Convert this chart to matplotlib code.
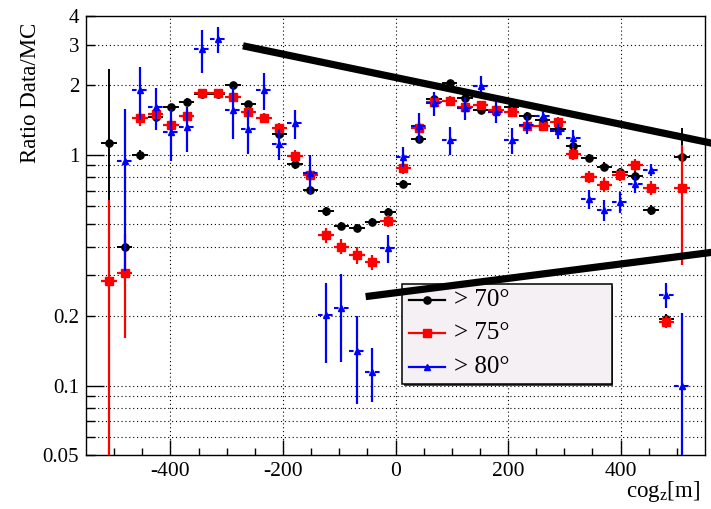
import numpy as np
import matplotlib
matplotlib.use("Agg")
import matplotlib.pyplot as plt
from matplotlib.ticker import FixedLocator, FuncFormatter
from matplotlib.lines import Line2D
from matplotlib.patches import Rectangle

nan = np.nan

# Histogram binning along cog_z [m]
z_low, z_high, n_bins = -550.0, 550.0, 40

# Data/MC ratio per bin for three zenith-angle cuts
ratio_70 = [nan, 1.13, 0.398, 1.00, 1.46, 1.61, 1.70, 1.84, 1.84, 2.01,
            1.66, 1.44, 1.23, 0.91, 0.705, 0.571, 0.492, 0.481, 0.514, 0.566,
            0.746, 1.17, 1.75, 2.05, 1.76, 1.56, 1.57, 1.62, 1.48, 1.41,
            1.30, 1.09, 0.967, 0.89, 0.841, 0.811, 0.577, 0.194, 0.983, nan]
err_70 = [nan, 1.22, 0.02, 0.05, 0.06, 0.06, 0.06, 0.07, 0.07, 0.07,
          0.06, 0.05, 0.05, 0.04, 0.03, 0.025, 0.02, 0.02, 0.02, 0.02,
          0.03, 0.04, 0.06, 0.07, 0.06, 0.05, 0.05, 0.05, 0.05, 0.05,
          0.05, 0.04, 0.04, 0.04, 0.04, 0.04, 0.03, 0.01, 0.33, nan]

ratio_75 = [nan, 0.285, 0.307, 1.44, 1.51, 1.35, 1.47, 1.85, 1.85, 1.79,
            1.54, 1.45, 1.31, 0.993, 0.819, 0.449, 0.40, 0.368, 0.342, 0.517,
            0.876, 1.31, 1.69, 1.715, 1.62, 1.64, 1.57, 1.54, 1.34, 1.34,
            1.39, 1.01, 0.805, 0.741, 0.819, 0.905, 0.721, 0.189, 0.717, nan]
err_75 = [nan, 0.353, 0.147, 0.10, 0.09, 0.09, 0.09, 0.08, 0.08, 0.09,
          0.08, 0.07, 0.07, 0.06, 0.05, 0.035, 0.03, 0.03, 0.025, 0.03,
          0.05, 0.08, 0.09, 0.09, 0.08, 0.08, 0.07, 0.07, 0.07, 0.07,
          0.07, 0.06, 0.05, 0.05, 0.05, 0.05, 0.05, 0.012, 0.384, nan]

ratio_80 = [nan, nan, 0.945, 1.915, 1.61, 1.26, 1.32, 2.875, 3.18, 1.567,
            1.29, 1.915, 1.12, 1.37, 0.838, 0.202, 0.216, 0.1416, 0.115, 0.394,
            0.983, 1.33, 1.675, 1.16, 1.594, 1.99, 1.54, 1.16, 1.35, 1.48,
            1.27, 1.18, 0.642, 0.577, 0.627, 0.746, 0.861, 0.247, 0.10, nan]
err_80 = [nan, nan, 0.63, 0.50, 0.33, 0.32, 0.29, 0.60, 0.42, 0.40,
          0.28, 0.35, 0.17, 0.20, 0.16, 0.077, 0.09, 0.058, 0.03, 0.055,
          0.10, 0.19, 0.20, 0.16, 0.18, 0.20, 0.16, 0.15, 0.12, 0.10,
          0.10, 0.10, 0.06, 0.06, 0.065, 0.065, 0.05, 0.03, 0.107, nan]

series_labels = ["> 70°", "> 75°", "> 80°"]
series_colors = ["black", "#ff0000", "#0000ff"]
series_markers = ["o", "s", "^"]

# Axis ticks and labels
x_major = [-400, -200, 0, 200, 400]
x_labels = ["-400", "-200", "0", "200", "400"]
y_decades = [0.1, 1.0]
y_minor = [0.05, 0.06, 0.07, 0.08, 0.09, 0.2, 0.3, 0.4, 0.5, 0.6,
           0.7, 0.8, 0.9, 2.0, 3.0, 4.0]
y_label_values = [0.05, 0.1, 0.2, 1.0, 2.0, 3.0, 4.0]
y_label_texts = ["0.05", "0.1", "0.2", "1", "2", "3", "4"]

# Two hand-drawn guide lines (data coordinates)
guide_upper_x = [-271.0, 562.0]
guide_upper_y = [2.97, 1.124]
guide_lower_x = [-53.0, 562.0]
guide_lower_y = [0.243, 0.378]

plt.rcParams["font.family"] = ["Liberation Serif", "DejaVu Serif"]
plt.rcParams["mathtext.fontset"] = "custom"
plt.rcParams["mathtext.rm"] = "Liberation Serif"
plt.rcParams["mathtext.it"] = "Liberation Serif:italic"
plt.rcParams["axes.unicode_minus"] = False

fig = plt.figure(figsize=(7.11, 5.09), dpi=100)
fig.patch.set_facecolor("white")
ax = fig.add_axes([86 / 711, 54 / 509, 619 / 711, 439 / 509])

edges = np.linspace(z_low, z_high, n_bins + 1)
centers = 0.5 * (edges[:-1] + edges[1:])
half_width = 0.5 * (edges[1] - edges[0])
y_bottom = 0.05


def lower_err(vals, errs):
    vals = np.asarray(vals, float)
    errs = np.asarray(errs, float)
    low = np.where(vals - errs <= 0, vals - 1e-4, errs)
    return np.vstack([low, errs])


# > 70 deg : full circles
ax.errorbar(centers, ratio_70, yerr=lower_err(ratio_70, err_70), xerr=half_width,
            fmt=series_markers[0], color=series_colors[0], ms=5.2, elinewidth=1.4,
            capsize=0, zorder=3)
# > 75 deg : full squares
ax.errorbar(centers, ratio_75, yerr=lower_err(ratio_75, err_75), xerr=half_width,
            fmt=series_markers[1], color=series_colors[1], ms=6.3, elinewidth=1.6,
            capsize=0, zorder=4)
# > 80 deg : full triangles, horizontal bars drawn with a gap at the marker
ax.errorbar(centers, ratio_80, yerr=lower_err(ratio_80, err_80),
            fmt=series_markers[2], color=series_colors[2], ms=4.8, elinewidth=1.6,
            capsize=0, zorder=5)
r80 = np.asarray(ratio_80, float)
gap = 4.0
ax.hlines(r80, centers - half_width, centers - gap, color=series_colors[2],
          lw=1.5, linestyles=(0, (2.2, 1.6)), zorder=5)
ax.hlines(r80, centers + gap, centers + half_width, color=series_colors[2],
          lw=1.5, linestyles=(0, (2.2, 1.6)), zorder=5)

ax.set_xlim(z_low, z_high)
ax.set_yscale("log")
ax.set_ylim(y_bottom, 4.0)

# Ticks
ax.xaxis.set_major_locator(FixedLocator(x_major))
ax.set_xticklabels(x_labels)
ax.xaxis.set_minor_locator(FixedLocator(np.arange(-500, 501, 50)))
ax.yaxis.set_major_locator(FixedLocator(y_decades))
ax.yaxis.set_minor_locator(FixedLocator(y_minor))
label_map = dict(zip(y_label_values, y_label_texts))


def y_fmt(v, pos):
    for key, txt in label_map.items():
        if abs(v - key) < 1e-6 * key:
            return txt
    return ""


ax.yaxis.set_major_formatter(FuncFormatter(y_fmt))
ax.yaxis.set_minor_formatter(FuncFormatter(y_fmt))

ax.tick_params(axis="both", which="both", direction="in", top=False, right=False,
               width=1.0, color="black")
ax.tick_params(axis="x", which="major", length=10.8, labelsize=15.5, pad=5)
ax.tick_params(axis="x", which="minor", length=5.0)
ax.tick_params(axis="y", which="major", length=13, labelsize=15, pad=5)
ax.tick_params(axis="y", which="minor", length=6.5, labelsize=15, pad=5)

# Dotted grid
grid_style = dict(color="black", linestyle=(0, (1, 2.5)), linewidth=0.8)
ax.grid(True, which="both", axis="y", **grid_style)
ax.grid(True, which="major", axis="x", **grid_style)
ax.set_axisbelow(True)

for sp in ax.spines.values():
    sp.set_linewidth(1.0)
    sp.set_color("black")

ax.set_ylabel("Ratio Data/MC", fontsize=16.5)
ax.yaxis.set_label_coords(-0.073, 0.826)
ax.set_xlabel(r"cog$_{\rm z}$[m]", fontsize=16.5, loc="right")
ax.xaxis.set_label_coords(0.992, -0.055)

# Guide lines extending beyond the frame
ax.plot(guide_upper_x, guide_upper_y, color="black", lw=5.2,
        solid_capstyle="butt", clip_on=False, zorder=8)
ax.plot(guide_lower_x, guide_lower_y, color="black", lw=5.2,
        solid_capstyle="butt", clip_on=False, zorder=8)

# Legend box
bx0, by0, bw, bh = 0.510, 0.162, 0.339, 0.227
ax.add_patch(Rectangle((bx0 + 0.003, by0 - 0.004), bw, bh, transform=ax.transAxes,
                       facecolor="#444444", edgecolor="none", zorder=6))
ax.add_patch(Rectangle((bx0, by0), bw, bh, transform=ax.transAxes,
                       facecolor="#f5f0f4", edgecolor="black", lw=1.1, zorder=6.5))
row_y = [0.353, 0.277, 0.201]
ms_leg = [5.2, 6.3, 4.8]
for lab, col, mk, ry, ms in zip(series_labels, series_colors, series_markers, row_y, ms_leg):
    ax.add_line(Line2D([0.522, 0.580], [ry, ry], transform=ax.transAxes, color=col,
                       lw=1.6, zorder=7))
    ax.add_line(Line2D([0.551], [ry], transform=ax.transAxes, color=col, marker=mk,
                       ms=ms, lw=0, zorder=7))
    ax.text(0.594, ry, lab, transform=ax.transAxes, fontsize=18, va="center",
            ha="left", color="black", zorder=7)

fig.savefig("out.png", dpi=100)
